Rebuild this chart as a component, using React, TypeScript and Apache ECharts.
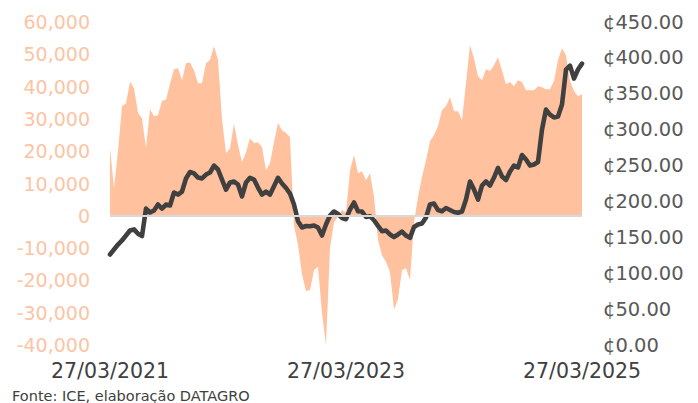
import React, { useEffect, useRef } from "react";
import * as echarts from "echarts";

// Net position (contracts) – left axis, sampled evenly from 27/03/2021 to 27/03/2025
const netPositions: number[] = [
  21000, 8500, 20000, 34000, 34800, 41500, 39500, 31800, 30200, 21000,
  33000, 30800, 31100, 35600, 35900, 40900, 45400, 45700, 42000, 47200,
  47500, 45000, 41000, 41000, 47200, 48200, 52500, 48200, 30000, 19400,
  20900, 28500, 21900, 16600, 19700, 24000, 22500, 22800, 21200, 14100,
  16300, 22800, 28700, 26500, 25600, 24300, -3000, -9000, -18000, -23300,
  -23000, -16800, -15800, -30000, -40000, -10000, -2000, -300, 1800, 1100,
  14000, 18800, 13200, 13800, 11000, 13200, 6000, -7500, -12200, -14300,
  -17400, -29000, -25800, -16800, -16200, -19900, -2000, 5800, 12000, 17200,
  23100, 25000, 27700, 32700, 33900, 36700, 32400, 32400, 29600, 41000,
  52800, 48800, 43200, 42000, 45400, 44800, 46600, 49100, 45000, 40700,
  41400, 40100, 42000, 41400, 38900, 38900, 38900, 40100, 39800, 39200,
  39200, 41700, 48200, 51900, 49700, 41700, 38600, 37000, 37600,
];

// Price (US cents/lb) – right axis
const prices: number[] = [
  126.1, 133, 140, 145.6, 152.5, 159.5, 161, 155, 151.8, 190,
  184.6, 187.4, 195.7, 190, 195.7, 194.3, 212.4, 209.6, 213.8, 232,
  241, 239, 233.3, 232, 237.5, 240.3, 250, 244.5, 230.5, 216.6,
  226.4, 227.7, 223.6, 206.9, 226.4, 233, 230.5, 219.4, 209.6, 213.8,
  209.6, 221.2, 232.9, 225, 218.7, 211, 195.7, 172.5, 163.7, 165.8,
  165.5, 166.5, 163.7, 152.5, 167.9, 180.4, 186, 182.5, 177, 175.2,
  188.8, 198.5, 186.4, 186, 178.3, 179.4, 173.8, 166, 158.5, 159.5,
  154, 150.4, 154, 158, 152.5, 149.3, 164.4, 167.9, 169.2, 177.6,
  195.7, 197, 188, 186.4, 190.8, 188, 185.3, 184.2, 186, 202.7,
  227.8, 216.6, 202.7, 222.2, 227.8, 222.2, 233.3, 246.8, 234.7, 229.8,
  241.7, 250, 247.3, 264.7, 258.4, 250, 251.4, 255, 300.2, 328,
  321, 317, 318.3, 335, 383.8, 389.3, 371.2, 383.8, 392,
];

const startDate = "2021-03-27";
const endDate = "2025-03-27";
const xTickLabels = ["27/03/2021", "27/03/2023", "27/03/2025"];
const sourceText = "Fonte: ICE, elaboração DATAGRO";

const FONT = "DejaVu Sans, Verdana, sans-serif";

function ts(d: string): number {
  const [y, m, day] = d.split("-").map(Number);
  return Date.UTC(y, m - 1, day);
}

export default function App() {
  const ref = useRef<HTMLDivElement>(null);

  useEffect(() => {
    if (!ref.current) return;
    const chart = echarts.init(ref.current, undefined, { renderer: "svg" });
    const totalDays = (ts(endDate) - ts(startDate)) / 86400000;
    const n = netPositions.length;
    const days = netPositions.map((_, i) => (totalDays * i) / (n - 1));
    const tickStep = totalDays / (xTickLabels.length - 1);

    const fmtThousands = (v: number) => {
      const s = Math.abs(v).toString().replace(/\B(?=(\d{3})+(?!\d))/g, ",");
      return (v < 0 ? "-" : "") + s;
    };

    chart.setOption({
      animation: false,
      backgroundColor: "#ffffff",
      grid: { left: 110, right: 116, top: 22, bottom: 58, containLabel: false },
      xAxis: {
        type: "value",
        min: 0,
        max: totalDays,
        interval: tickStep,
        axisLine: { show: false },
        axisTick: { show: false },
        splitLine: { show: false },
        axisLabel: {
          margin: 15,
          fontSize: 20.5,
          fontFamily: FONT,
          color: "#404040",
          showMinLabel: true,
          showMaxLabel: true,
          formatter: (v: number) => {
            const idx = Math.round(v / tickStep);
            return xTickLabels[idx] ?? "";
          },
        },
      },
      yAxis: [
        {
          type: "value",
          min: -40000,
          max: 60000,
          interval: 10000,
          axisLine: { show: false },
          axisTick: { show: false },
          splitLine: { show: false },
          axisLabel: {
            margin: 20,
            fontSize: 19,
            fontFamily: FONT,
            color: "#FCC4A4",
            formatter: (v: number) => fmtThousands(v),
          },
        },
        {
          type: "value",
          position: "right",
          min: 0,
          max: 450,
          interval: 50,
          axisLine: { show: false },
          axisTick: { show: false },
          splitLine: { show: false },
          axisLabel: {
            margin: 21,
            fontSize: 19.5,
            fontFamily: FONT,
            color: "#595959",
            formatter: (v: number) => "¢" + v.toFixed(2),
          },
        },
      ],
      series: [
        {
          name: "Posição",
          type: "line",
          yAxisIndex: 0,
          data: days.map((d, i) => [d, netPositions[i]]),
          showSymbol: false,
          symbol: "none",
          lineStyle: { width: 0, color: "#FFC19E" },
          itemStyle: { color: "#FFC19E" },
          areaStyle: { color: "#FFC19E", opacity: 1 },
          z: 1,
          silent: true,
          markLine: {
            silent: true,
            symbol: "none",
            label: { show: false },
            lineStyle: { color: "#D9D9D9", width: 2, type: "solid" },
            data: [{ yAxis: 0 }],
          },
        },
        {
          name: "Preço",
          type: "line",
          yAxisIndex: 1,
          data: days.map((d, i) => [d, prices[i]]),
          showSymbol: false,
          symbol: "none",
          lineStyle: { width: 4.6, color: "#404040", join: "round", cap: "round" },
          itemStyle: { color: "#404040" },
          z: 3,
          silent: true,
        },
      ],
      graphic: [
        {
          type: "text",
          left: 12,
          top: 388,
          style: {
            text: sourceText,
            fontSize: 14.5,
            fontFamily: FONT,
            fill: "#404040",
          },
        },
      ],
    });
    return () => chart.dispose();
  }, []);

  return (
    <div
      ref={ref}
      style={{ position: "fixed", left: 0, top: 0, width: 698, height: 403 }}
    />
  );
}
